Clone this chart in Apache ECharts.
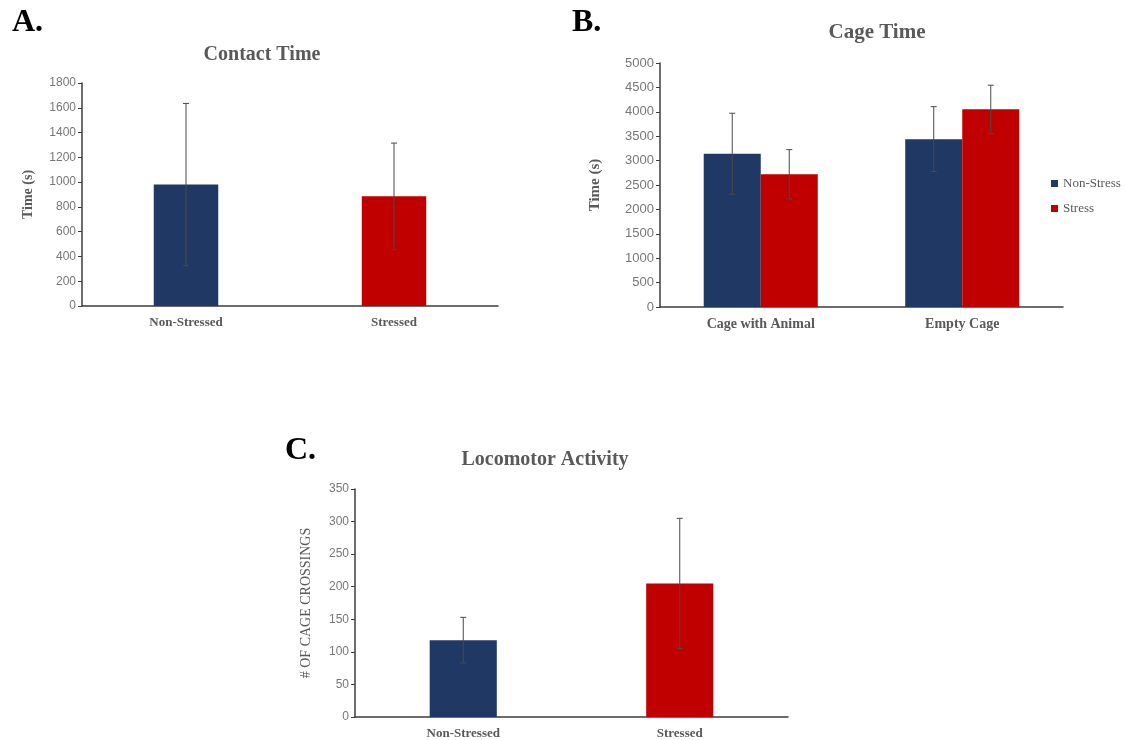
<!DOCTYPE html>
<html>
<head>
<meta charset="utf-8">
<script src="https://cdn.jsdelivr.net/npm/echarts@6/dist/echarts.min.js"></script>
<style>
  html, body { margin: 0; padding: 0; background: #fff; }
  #chart { width: 1126px; height: 740px; }
</style>
</head>
<body>
<div id="chart"></div>
<script>
// A. Contact Time
const contactCats = ['Non-Stressed', 'Stressed'];
const contactMean = [980, 885];
const contactErr = [655, 430];
const contactTicks = [0, 1800, 200];

// B. Cage Time
const cageCats = ['Cage with Animal', 'Empty Cage'];
const cageNonStress = [3140, 3440];
const cageNonStressErr = [830, 665];
const cageStress = [2720, 4050];
const cageStressErr = [505, 495];
const cageTicks = [0, 5000, 500];

// C. Locomotor Activity
const locoCats = ['Non-Stressed', 'Stressed'];
const locoMean = [118, 205];
const locoErr = [35, 100];
const locoTicks = [0, 350, 50];

const BLUE = '#203864';
const RED = '#C00000';
const SERIF = '"Liberation Serif", "Times New Roman", serif';
const SANS = '"Liberation Sans", Arial, sans-serif';

const chart = echarts.init(document.getElementById('chart'));

function xAxisFor(idx, cats, size) {
    return {
        type: 'category', gridIndex: idx, data: cats,
        axisLine: { lineStyle: { color: '#3c3c3c', width: 1.5 } },
        axisTick: { show: false },
        axisLabel: { fontFamily: SERIF, fontWeight: 'bold', fontSize: size, color: '#595959', margin: 10 }
    };
}

function yAxisFor(idx, ticks, name, gap, nameStyle, labelSize) {
    return {
        type: 'value', gridIndex: idx, min: ticks[0], max: ticks[1], interval: ticks[2],
        name: name, nameLocation: 'middle', nameGap: gap,
        nameTextStyle: nameStyle,
        axisLine: { show: true, lineStyle: { color: '#3c3c3c', width: 1.5 } },
        axisTick: { show: true, inside: false, length: 4, lineStyle: { color: '#3c3c3c' } },
        splitLine: { show: false },
        axisLabel: { fontFamily: SANS, fontSize: labelSize, color: '#777', margin: 6, formatter: v => String(v) }
    };
}

function errorBars(idx, means, errs, offset) {
    return {
        type: 'custom', xAxisIndex: idx, yAxisIndex: idx, z: 5, silent: true,
        data: means.map((m, i) => [i, m - errs[i], m + errs[i]]),
        renderItem: (params, api) => {
            const lo = api.coord([api.value(0), api.value(1)]);
            const hi = api.coord([api.value(0), api.value(2)]);
            const band = api.size([1, 0])[0];
            const x = lo[0] + band * offset;
            const style = { stroke: '#4a4a4a', lineWidth: 1 };
            return {
                type: 'group',
                children: [
                    { type: 'line', shape: { x1: x, y1: lo[1], x2: x, y2: hi[1] }, style: style },
                    { type: 'line', shape: { x1: x - 3, y1: hi[1], x2: x + 3, y2: hi[1] }, style: style },
                    { type: 'line', shape: { x1: x - 3, y1: lo[1], x2: x + 3, y2: lo[1] }, style: style }
                ]
            };
        }
    };
}

const titleFont = 'bold 20px ' + SERIF;
const panelFont = 'bold 32px ' + SERIF;

const option = {
    animation: false,
    backgroundColor: '#fff',
    grid: [
        { left: 82, top: 83, width: 416, height: 223 },
        { left: 660, top: 63, width: 403, height: 244 },
        { left: 355, top: 489, width: 433, height: 228 }
    ],
    graphic: [
        { type: 'text', x: 12, y: 23, style: { text: 'A.', font: panelFont, fill: '#000', verticalAlign: 'middle' } },
        { type: 'text', x: 572, y: 23, style: { text: 'B.', font: panelFont, fill: '#000', verticalAlign: 'middle' } },
        { type: 'text', x: 285, y: 451, style: { text: 'C.', font: panelFont, fill: '#000', verticalAlign: 'middle' } },
        { type: 'text', x: 262, y: 55, style: { text: 'Contact Time', font: titleFont, fill: '#595959', align: 'center', verticalAlign: 'middle' } },
        { type: 'text', x: 877, y: 33, style: { text: 'Cage Time', font: 'bold 21px ' + SERIF, fill: '#595959', align: 'center', verticalAlign: 'middle' } },
        { type: 'text', x: 545, y: 460, style: { text: 'Locomotor Activity', font: titleFont, fill: '#595959', align: 'center', verticalAlign: 'middle' } }
    ],
    legend: {
        data: ['Non-Stress', 'Stress'],
        orient: 'vertical', left: 1046, top: 172,
        itemWidth: 7, itemHeight: 7, itemGap: 12, icon: 'rect',
        textStyle: { fontFamily: SERIF, fontSize: 13, color: '#595959' }
    },
    xAxis: [
        xAxisFor(0, contactCats, 13),
        xAxisFor(1, cageCats, 14),
        xAxisFor(2, locoCats, 13)
    ],
    yAxis: [
        yAxisFor(0, contactTicks, 'Time (s)', 47,
            { fontFamily: SERIF, fontWeight: 'bold', fontSize: 14, color: '#595959' }, 12),
        yAxisFor(1, cageTicks, 'Time (s)', 57,
            { fontFamily: SERIF, fontWeight: 'bold', fontSize: 15, color: '#595959' }, 13),
        yAxisFor(2, locoTicks, '# OF CAGE CROSSINGS', 42,
            { fontFamily: SERIF, fontSize: 14, color: '#595959' }, 12)
    ],
    series: [
        {
            type: 'bar', xAxisIndex: 0, yAxisIndex: 0, barWidth: '31%',
            data: contactMean.map((v, i) => ({ value: v, itemStyle: { color: i === 0 ? BLUE : RED } }))
        },
        errorBars(0, contactMean, contactErr, 0),
        {
            name: 'Non-Stress', type: 'bar', xAxisIndex: 1, yAxisIndex: 1,
            barWidth: '28.3%', barGap: '0%', itemStyle: { color: BLUE },
            data: cageNonStress
        },
        {
            name: 'Stress', type: 'bar', xAxisIndex: 1, yAxisIndex: 1,
            barWidth: '28.3%', barGap: '0%', itemStyle: { color: RED },
            data: cageStress
        },
        errorBars(1, cageNonStress, cageNonStressErr, -0.1415),
        errorBars(1, cageStress, cageStressErr, 0.1415),
        {
            type: 'bar', xAxisIndex: 2, yAxisIndex: 2, barWidth: '31%',
            data: locoMean.map((v, i) => ({ value: v, itemStyle: { color: i === 0 ? BLUE : RED } }))
        },
        errorBars(2, locoMean, locoErr, 0)
    ]
};

chart.setOption(option);
</script>
</body>
</html>
